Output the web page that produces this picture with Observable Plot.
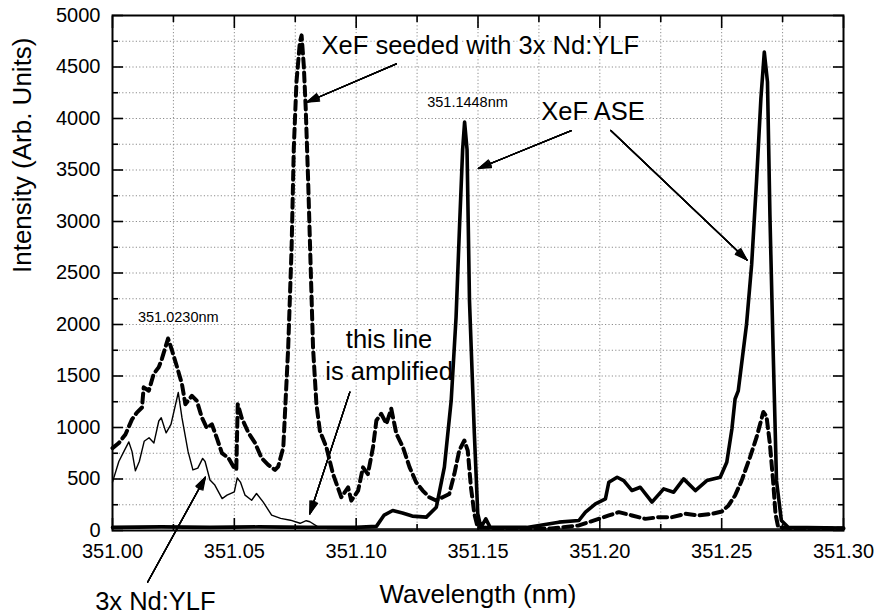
<!DOCTYPE html>
<html>
<head>
<meta charset="utf-8">
<script src="https://cdn.jsdelivr.net/npm/d3@7"></script>
<script src="https://cdn.jsdelivr.net/npm/@observablehq/plot@0.6"></script>
<style>
  body { margin: 0; background: #fff; }
  svg { display: block; }
</style>
</head>
<body>
<div id="chart"></div>
<script>
// ---- Data ----
// 3x Nd:YLF (thin solid line)
const ndWl  = [351.000, 351.0026, 351.0047, 351.0067, 351.008, 351.0094, 351.011, 351.013, 351.015, 351.017, 351.019, 351.020, 351.022, 351.024, 351.027, 351.0285, 351.031, 351.033, 351.035, 351.037, 351.038, 351.040, 351.042, 351.045, 351.047, 351.050, 351.0512, 351.0525, 351.0544, 351.0571, 351.0591, 351.0618, 351.0653, 351.069, 351.073, 351.077, 351.0795, 351.081, 351.084, 351.088, 351.10, 351.15, 351.20, 351.25, 351.30];
const ndInt = [470, 670, 768, 860, 768, 580, 670, 866, 900, 850, 1063, 1095, 948, 1030, 1340, 1095, 768, 588, 605, 700, 670, 490, 441, 310, 343, 376, 510, 470, 343, 294, 359, 278, 150, 118, 100, 70, 95, 85, 40, 20, 15, 15, 15, 15, 15];

// XeF seeded with 3x Nd:YLF (thick dashed line)
const seedWl  = [351.000, 351.0026, 351.0053, 351.008, 351.010, 351.0121, 351.0128, 351.0149, 351.0169, 351.019, 351.0203, 351.0228, 351.0244, 351.0265, 351.0285, 351.0299, 351.0326, 351.0346, 351.0367, 351.0387, 351.0408, 351.0428, 351.0449, 351.0476, 351.0496, 351.0508, 351.0514, 351.053, 351.0558, 351.0585, 351.0612, 351.0639, 351.0667, 351.068, 351.0701, 351.0721, 351.0735, 351.0744, 351.0755, 351.0769, 351.0776, 351.0785, 351.0793, 351.0803, 351.0813, 351.0823, 351.0837, 351.0851, 351.0878, 351.0905, 351.0939, 351.0967, 351.098, 351.1008, 351.1028, 351.1048, 351.1069, 351.1083, 351.1103, 351.1124, 351.1144, 351.1165, 351.1192, 351.1219, 351.1246, 351.1273, 351.130, 351.1328, 351.1355, 351.1382, 351.1403, 351.1423, 351.1444, 351.1458, 351.1471, 351.1485, 351.1499, 351.160, 351.180, 351.1914, 351.1995, 351.2037, 351.2078, 351.2132, 351.2187, 351.2241, 351.2296, 351.2351, 351.2405, 351.2460, 351.2501, 351.2528, 351.2555, 351.2582, 351.2616, 351.2643, 351.2671, 351.2684, 351.2698, 351.2711, 351.2721, 351.2732, 351.280, 351.300];
const seedInt = [800, 850, 932, 1079, 1145, 1194, 1390, 1357, 1520, 1586, 1668, 1864, 1750, 1586, 1422, 1226, 1308, 1259, 1095, 997, 1030, 899, 752, 703, 621, 589, 1226, 1095, 948, 850, 703, 638, 589, 621, 807, 1774, 2742, 3710, 4355, 4742, 4807, 4516, 4097, 3387, 2581, 1774, 1226, 968, 806, 548, 323, 419, 290, 387, 613, 548, 806, 1068, 1133, 1036, 1182, 939, 809, 615, 469, 388, 323, 291, 323, 355, 550, 776, 874, 776, 420, 162, 30, 20, 20, 49, 113, 146, 178, 146, 113, 129, 129, 162, 146, 162, 185, 243, 340, 484, 710, 903, 1150, 1110, 839, 484, 161, 32, 20, 20];

// XeF ASE (thick solid line)
const aseWl  = [351.000, 351.020, 351.040, 351.060, 351.080, 351.100, 351.1083, 351.1115, 351.115, 351.119, 351.123, 351.1288, 351.1329, 351.1362, 351.139, 351.141, 351.1425, 351.1437, 351.1445, 351.1455, 351.1465, 351.1485, 351.1499, 351.1512, 351.1532, 351.155, 351.170, 351.1832, 351.1914, 351.1941, 351.1982, 351.2023, 351.2037, 351.2071, 351.2098, 351.2132, 351.2166, 351.2214, 351.2262, 351.2303, 351.2344, 351.2392, 351.2439, 351.2494, 351.2521, 351.2542, 351.2555, 351.2568, 351.2602, 351.2623, 351.2643, 351.2661, 351.2675, 351.2688, 351.2698, 351.2711, 351.2725, 351.2745, 351.2773, 351.300];
const aseInt = [30, 35, 30, 35, 30, 30, 40, 150, 194, 170, 140, 130, 226, 615, 1262, 2071, 3000, 3700, 3965, 3700, 2233, 940, 163, 30, 113, 30, 30, 81, 97, 178, 259, 307, 469, 517, 485, 388, 420, 275, 404, 372, 501, 388, 485, 517, 663, 986, 1277, 1355, 2000, 2581, 3387, 4194, 4645, 4355, 3065, 1774, 484, 97, 32, 25];

// Axis ticks and grid
const xMajorTicks = [351.00, 351.05, 351.10, 351.15, 351.20, 351.25, 351.30];
const xMinorTicks = [351.025, 351.075, 351.125, 351.175, 351.225, 351.275];
const yMajorTicks = [0, 500, 1000, 1500, 2000, 2500, 3000, 3500, 4000, 4500, 5000];
const yMinorTicks = [250, 750, 1250, 1750, 2250, 2750, 3250, 3750, 4250, 4750];
const xGrid = [351.025, 351.05, 351.075, 351.10, 351.125, 351.15, 351.175, 351.20, 351.225, 351.25, 351.275];
const yGrid = [250, 500, 750, 1000, 1250, 1500, 1750, 2000, 2250, 2500, 2750, 3000, 3250, 3500, 3750, 4000, 4250, 4500, 4750];

// Annotations (data coordinates)
const bigLabelsStart = [
  {x: 351.0858, y: 4701, text: "XeF seeded with 3x Nd:YLF"},
  {x: 351.1760, y: 4060, text: "XeF ASE"}
];
const bigLabelsMiddle = [
  {x: 351.1135, y: 1720, text: "this line\nis amplified"},
  {x: 351.0176, y: -668, text: "3x Nd:YLF"}
];
const peakLabels = [
  {x: 351.0270, y: 2074, text: "351.0230nm"},
  {x: 351.1457, y: 4152, text: "351.1448nm"}
];
const arrows = [
  {x1: 351.1165, y1: 4531, x2: 351.0797, y2: 4158},
  {x1: 351.1883, y1: 3883, x2: 351.1502, y2: 3515},
  {x1: 351.2045, y1: 3883, x2: 351.2604, y2: 2626},
  {x1: 351.0974, y1: 1343, x2: 351.0810, y2: 162},
  {x1: 351.0144, y1: -502, x2: 351.0381, y2: 517}
];
const headAngles = [36, 28, 20, 12, 4];

const rows = (xs, ys) => xs.map((x, i) => ({x, y: ys[i]}));
const nd = rows(ndWl, ndInt);
const seed = rows(seedWl, seedInt);
const ase = rows(aseWl, aseInt);

const FONT = "'Liberation Sans', Arial, Helvetica, sans-serif";

const chart = Plot.plot({
  width: 877,
  height: 613,
  marginLeft: 112,
  marginRight: 34,
  marginTop: 15,
  marginBottom: 83,
  style: {fontFamily: FONT, background: "#fff", color: "#000", overflow: "visible"},
  x: {domain: [351.0, 351.3]},
  y: {domain: [0, 5000]},
  marks: [
    Plot.ruleX(xGrid, {stroke: "#8c8c8c", strokeWidth: 1, strokeDasharray: "1.2,2.2"}),
    Plot.ruleY(yGrid, {stroke: "#8c8c8c", strokeWidth: 1, strokeDasharray: "1.2,2.2"}),
    Plot.text(bigLabelsStart, {x: "x", y: "y", text: "text", fontSize: 25.5, textAnchor: "start", lineAnchor: "middle", fill: "#000", stroke: "#fff", strokeWidth: 5, paintOrder: "stroke"}),
    Plot.text(bigLabelsMiddle, {x: "x", y: "y", text: "text", fontSize: 25.5, textAnchor: "middle", lineAnchor: "middle", lineHeight: 1.255, fill: "#000", stroke: "#fff", strokeWidth: 5, paintOrder: "stroke"}),
    Plot.text(peakLabels, {x: "x", y: "y", text: "text", fontSize: 14.5, textAnchor: "middle", lineAnchor: "middle", fill: "#000", stroke: "#fff", strokeWidth: 4, paintOrder: "stroke"}),
    Plot.line(seed, {x: "x", y: "y", stroke: "#000", strokeWidth: 4, strokeDasharray: "9,5", strokeLinejoin: "round"}),
    Plot.line(ase, {x: "x", y: "y", stroke: "#000", strokeWidth: 3.6, strokeLinejoin: "round"}),
    Plot.line(nd, {x: "x", y: "y", stroke: "#000", strokeWidth: 1.4, strokeLinejoin: "round"}),
    ...headAngles.map(a => Plot.arrow(arrows, {x1: "x1", y1: "y1", x2: "x2", y2: "y2", stroke: "#000", strokeWidth: 1.3, headLength: 15, headAngle: a})),
    Plot.frame({stroke: "#000", strokeWidth: 2}),
    Plot.axisX({anchor: "bottom", ticks: xMajorTicks, tickSize: -12, tickPadding: 25, tickFormat: d => d.toFixed(2), fontSize: 20, label: null, strokeWidth: 1.6}),
    Plot.axisX({anchor: "bottom", ticks: xMinorTicks, tickSize: -6, tickFormat: () => "", label: null, strokeWidth: 1.6}),
    Plot.axisX({anchor: "top", ticks: xMajorTicks, tickSize: -12, tickFormat: () => "", label: null, strokeWidth: 1.6}),
    Plot.axisX({anchor: "top", ticks: xMinorTicks, tickSize: -6, tickFormat: () => "", label: null, strokeWidth: 1.6}),
    Plot.axisY({anchor: "left", ticks: yMajorTicks, tickSize: -11, tickPadding: 23, tickFormat: d => String(d), fontSize: 20, label: null, strokeWidth: 1.6}),
    Plot.axisY({anchor: "left", ticks: yMinorTicks, tickSize: -6, tickFormat: () => "", label: null, strokeWidth: 1.6}),
    Plot.axisY({anchor: "right", ticks: yMajorTicks, tickSize: -11, tickFormat: () => "", label: null, strokeWidth: 1.6}),
    Plot.axisY({anchor: "right", ticks: yMinorTicks, tickSize: -6, tickFormat: () => "", label: null, strokeWidth: 1.6}),
    Plot.text(["Wavelength (nm)"], {frameAnchor: "bottom", dy: 64, fontSize: 26, lineAnchor: "middle", fill: "#000"}),
    Plot.text(["Intensity (Arb. Units)"], {frameAnchor: "left", dx: -90, rotate: -90, fontSize: 26, lineAnchor: "middle", fill: "#000"})
  ]
});
document.getElementById("chart").appendChild(chart);
</script>
</body>
</html>
